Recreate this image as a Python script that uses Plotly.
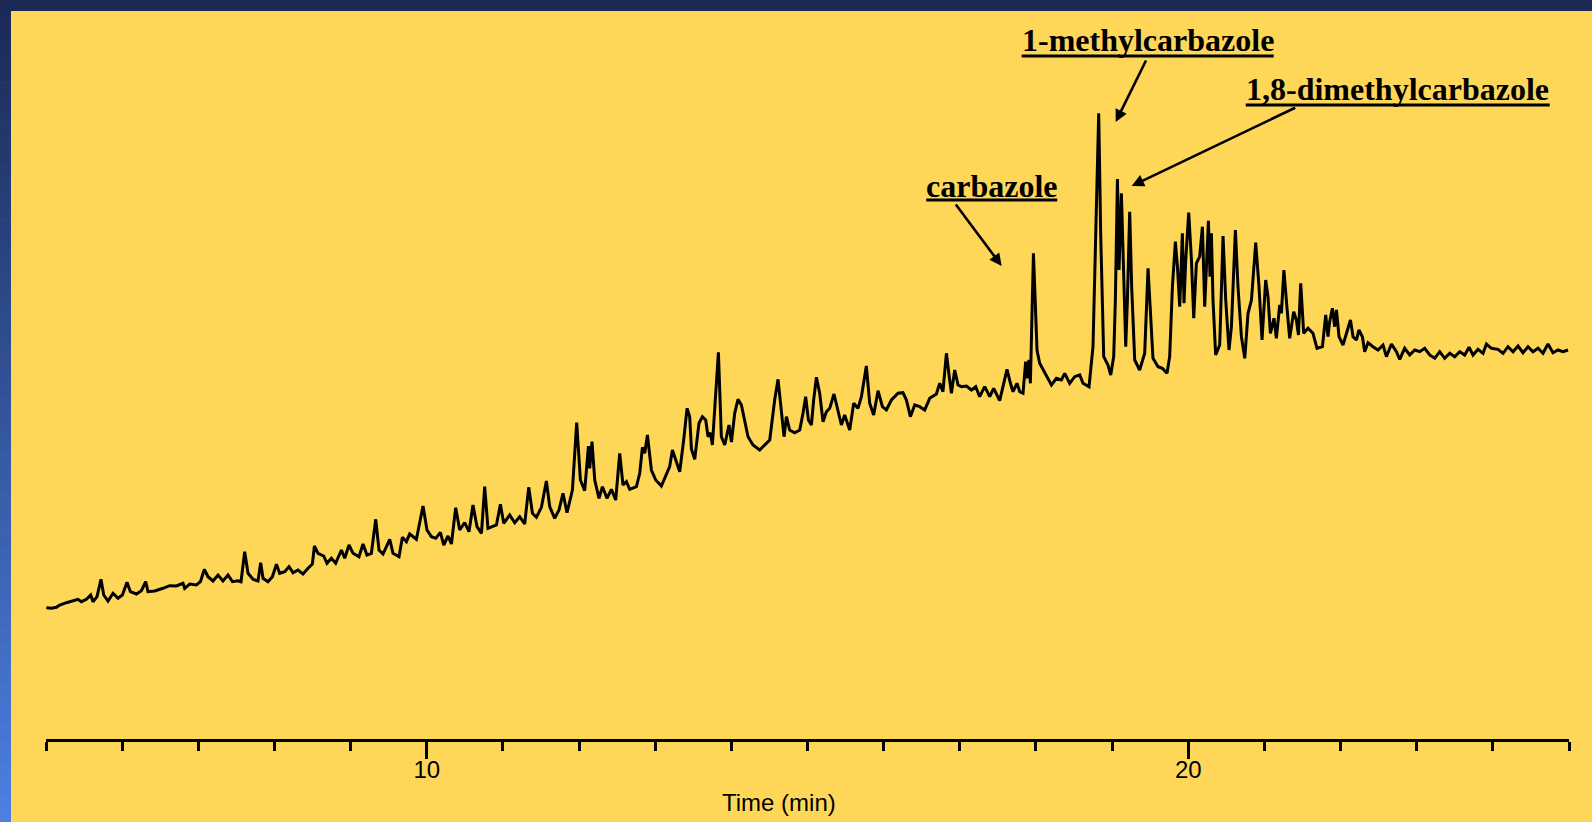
import plotly.graph_objects as go

# Total ion chromatogram: retention time (min) and detector response (arbitrary units)
time_min = [
    5.005, 5.071, 5.137, 5.180, 5.268, 5.355, 5.420, 5.465, 5.531, 5.587, 5.617, 5.670, 5.722, 5.758,
    5.814, 5.880, 5.946, 6.003, 6.064, 6.108, 6.187, 6.253, 6.309, 6.339, 6.427, 6.536, 6.624, 6.712,
    6.799, 6.821, 6.887, 6.975, 7.028, 7.080, 7.127, 7.193, 7.259, 7.324, 7.390, 7.448, 7.521, 7.561,
    7.609, 7.653, 7.718, 7.784, 7.819, 7.850, 7.915, 7.973, 8.026, 8.069, 8.135, 8.191, 8.244, 8.309,
    8.375, 8.441, 8.498, 8.525, 8.572, 8.647, 8.690, 8.748, 8.804, 8.879, 8.923, 8.979, 9.032, 9.110,
    9.163, 9.215, 9.273, 9.330, 9.373, 9.426, 9.514, 9.557, 9.636, 9.680, 9.733, 9.776, 9.864, 9.951,
    10.003, 10.061, 10.118, 10.179, 10.223, 10.279, 10.324, 10.380, 10.433, 10.498, 10.555, 10.607,
    10.660, 10.718, 10.761, 10.804, 10.915, 10.967, 11.011, 11.089, 11.155, 11.221, 11.286, 11.339,
    11.388, 11.440, 11.506, 11.571, 11.615, 11.680, 11.737, 11.789, 11.842, 11.913, 11.969, 12.018,
    12.074, 12.123, 12.140, 12.170, 12.206, 12.262, 12.307, 12.367, 12.425, 12.481, 12.534, 12.577,
    12.622, 12.665, 12.753, 12.797, 12.832, 12.862, 12.898, 12.950, 13.007, 13.081, 13.138, 13.190,
    13.226, 13.278, 13.322, 13.374, 13.418, 13.453, 13.476, 13.519, 13.575, 13.620, 13.663, 13.694,
    13.725, 13.751, 13.830, 13.869, 13.913, 13.969, 14.001, 14.044, 14.087, 14.132, 14.175, 14.219,
    14.284, 14.372, 14.504, 14.569, 14.613, 14.657, 14.692, 14.723, 14.766, 14.832, 14.898, 14.941,
    14.976, 15.012, 15.051, 15.081, 15.117, 15.160, 15.204, 15.248, 15.292, 15.348, 15.401, 15.445,
    15.488, 15.554, 15.607, 15.663, 15.708, 15.773, 15.817, 15.869, 15.926, 15.984, 16.036, 16.102,
    16.189, 16.254, 16.299, 16.351, 16.408, 16.473, 16.539, 16.605, 16.693, 16.736, 16.779, 16.824,
    16.867, 16.890, 16.933, 16.977, 17.021, 17.087, 17.153, 17.209, 17.261, 17.327, 17.393, 17.445,
    17.524, 17.567, 17.620, 17.665, 17.699, 17.751, 17.787, 17.830, 17.865, 17.883, 17.909, 17.927,
    17.967, 17.990, 18.014, 18.049, 18.115, 18.203, 18.269, 18.334, 18.378, 18.443, 18.509, 18.575,
    18.618, 18.697, 18.749, 18.794, 18.824, 18.850, 18.890, 18.946, 18.982, 19.021, 19.043, 19.070,
    19.091, 19.122, 19.153, 19.179, 19.201, 19.231, 19.257, 19.297, 19.362, 19.428, 19.472, 19.507,
    19.537, 19.603, 19.660, 19.721, 19.756, 19.792, 19.831, 19.858, 19.888, 19.923, 19.944, 19.967,
    20.006, 20.042, 20.072, 20.107, 20.150, 20.186, 20.216, 20.239, 20.265, 20.286, 20.304, 20.325,
    20.360, 20.413, 20.457, 20.492, 20.535, 20.567, 20.619, 20.653, 20.698, 20.742, 20.785, 20.830,
    20.886, 20.929, 20.969, 21.017, 21.047, 21.079, 21.126, 21.157, 21.201, 21.223, 21.256, 21.297,
    21.332, 21.385, 21.420, 21.447, 21.477, 21.516, 21.573, 21.638, 21.691, 21.762, 21.805, 21.835,
    21.857, 21.893, 21.923, 21.946, 21.980, 22.032, 22.077, 22.130, 22.164, 22.208, 22.242, 22.287,
    22.317, 22.361, 22.426, 22.492, 22.558, 22.602, 22.668, 22.734, 22.777, 22.842, 22.908, 22.974,
    23.040, 23.105, 23.171, 23.237, 23.302, 23.368, 23.434, 23.499, 23.565, 23.631, 23.687, 23.740,
    23.805, 23.871, 23.916, 23.981, 24.068, 24.134, 24.199, 24.265, 24.331, 24.396, 24.462, 24.527,
    24.593, 24.659, 24.724, 24.790, 24.856, 24.921, 24.987,
]

response = [
    131.3, 130.7, 131.7, 134.0, 136.3, 138.3, 139.7, 137.3, 139.7, 144.0, 137.3, 142.3, 159.7, 144.0,
    138.0, 145.7, 140.7, 144.0, 156.7, 147.3, 145.0, 148.3, 157.3, 147.3, 148.0, 150.7, 153.3, 153.0,
    155.7, 150.7, 155.0, 154.0, 157.3, 169.7, 162.3, 158.0, 164.0, 158.0, 164.0, 157.3, 158.3, 157.3,
    187.3, 165.7, 159.7, 158.0, 176.3, 160.7, 157.3, 162.3, 174.7, 165.7, 167.3, 172.3, 166.3, 169.0,
    165.0, 170.7, 175.0, 193.0, 185.7, 183.0, 175.7, 180.7, 175.7, 189.0, 180.7, 194.0, 185.7, 182.3,
    195.0, 184.0, 185.7, 219.7, 189.0, 185.0, 199.7, 185.7, 182.3, 201.7, 197.3, 205.0, 199.7, 233.0,
    209.0, 202.3, 200.7, 206.7, 194.0, 203.0, 195.0, 231.3, 209.0, 216.3, 207.3, 234.0,
    212.3, 205.7, 252.3, 210.7, 214.0, 234.7, 215.7, 224.0, 216.3, 222.3, 215.0, 251.7,
    225.7, 221.7, 231.7, 258.0, 232.3, 220.7, 229.0, 245.7, 226.3, 249.0, 316.3, 259.0,
    248.3, 293.0, 270.7, 297.3, 259.0, 240.7, 252.3, 240.7, 249.7, 239.0, 285.7, 254.0,
    257.3, 249.7, 252.3, 265.7, 291.7, 285.7, 304.0, 269.0, 259.0, 253.0, 263.0, 272.3,
    289.0, 278.3, 267.3, 299.0, 330.7, 322.3, 289.7, 279.7, 315.7, 322.3, 319.0, 302.3,
    306.3, 294.0, 386.7, 302.3, 294.0, 314.0, 297.0, 325.7, 339.7, 334.0, 319.0, 302.3,
    294.0, 289.0, 299.0, 339.0, 359.7, 329.0, 302.3, 322.3, 309.0, 306.3, 309.0, 325.7,
    342.3, 319.0, 314.0, 339.0, 361.7, 345.7, 317.3, 327.3, 330.7, 345.0, 329.0, 314.0,
    324.0, 309.0, 335.7, 330.7, 342.3, 373.0, 335.7, 324.0, 348.3, 332.3, 329.0, 339.0,
    345.7, 346.3, 339.0, 322.3, 334.0, 332.3, 329.0, 340.7, 345.0, 355.7, 347.3, 385.7,
    359.0, 345.7, 369.0, 354.0, 352.3, 353.0, 349.0, 352.3, 342.3, 352.3, 342.3, 350.7,
    338.3, 352.3, 369.7, 355.7, 347.3, 355.7, 347.3, 345.7, 377.3, 360.7, 379.0, 355.7,
    485.7, 439.0, 389.0, 375.7, 365.7, 354.0, 360.7, 359.0, 365.7, 355.7, 362.3, 364.0,
    355.7, 352.3, 392.3, 539.0, 625.7, 505.7, 382.3, 374.0, 364.0, 382.3, 439.0, 560.0,
    469.0, 545.7, 472.3, 392.3, 439.0, 527.3, 452.3, 379.0, 369.0, 385.7, 470.7, 422.3,
    380.7, 372.3, 370.7, 365.7, 382.3, 452.3, 497.3, 472.3, 432.3, 505.7, 435.7, 479.0,
    526.3, 479.0, 420.7, 475.7, 482.3, 512.3, 432.3, 472.3, 518.3, 462.3, 505.7, 439.0,
    384.0, 394.0, 503.0, 439.0, 389.0, 412.3, 509.0, 452.3, 402.3, 380.7, 425.7, 439.0,
    496.3, 452.3, 399.0, 459.0, 442.3, 405.7, 420.7, 400.7, 434.0, 425.7, 469.0, 430.7,
    400.7, 427.3, 419.0, 404.0, 455.7, 405.7, 410.7, 405.7, 390.7, 392.3, 424.0, 402.3,
    417.3, 430.7, 412.3, 429.0, 402.3, 394.0, 405.7, 419.0, 402.3, 399.0, 409.0, 402.3,
    387.3, 396.3, 392.3, 389.0, 394.0, 382.3, 395.0, 387.3, 379.7, 390.7, 384.0, 389.0,
    387.3, 390.7, 384.0, 380.7, 387.3, 380.7, 385.7, 382.3, 387.3, 384.0, 391.7, 384.0,
    389.7, 385.7, 395.0, 390.7, 389.7, 385.7, 392.3, 387.3, 393.0, 386.3, 392.3, 387.3,
    390.7, 385.7, 395.0, 386.3, 389.0, 387.3, 389.0,
]

# Compound labels
peak_names = ["carbazole", "1-methylcarbazole", "1,8-dimethylcarbazole"]

# Label placement (time, response): text centre, underline span, arrow tail and head
label_layout = [
    dict(text_at=(17.419, 553.5), underline=(16.559, 18.279, 539), tail=(16.933, 536), head=(17.550, 473)),
    dict(text_at=(19.468, 698.8), underline=(17.813, 21.122, 683), tail=(19.455, 680), head=(19.047, 617)),
    dict(text_at=(22.751, 650.0), underline=(20.755, 24.747, 634), tail=(21.424, 632), head=(19.257, 553)),
]

W, H = 1592, 822
M_L, M_R, M_T, M_B = 46, 23, 11, 83
Y_TOP = 728

YELLOW = "#FED758"
NAVY = "#1B2A55"


def px_to_paper_x(px):
    return (px - M_L) / (W - M_L - M_R)


def px_to_paper_y(py):
    return (H - M_B - py) / (H - M_T - M_B)


fig = go.Figure()
fig.add_trace(go.Scatter(
    x=time_min, y=response, mode="lines",
    line=dict(color="black", width=3),
    hoverinfo="skip", showlegend=False,
))

shapes = []
# dark frame along the top edge
shapes.append(dict(
    type="rect", xref="paper", yref="paper", layer="above",
    x0=px_to_paper_x(0), x1=px_to_paper_x(W), y0=px_to_paper_y(11), y1=px_to_paper_y(0),
    fillcolor=NAVY, line=dict(width=0),
))
# blue gradient frame along the left edge
c0 = (27, 42, 85)
c1 = (76, 127, 224)
n_strips = 60
for i in range(n_strips):
    f = i / (n_strips - 1)
    col = tuple(round(a + (b - a) * f) for a, b in zip(c0, c1))
    y_top = H * i / n_strips
    y_bot = H * (i + 1) / n_strips + 0.6
    shapes.append(dict(
        type="rect", xref="paper", yref="paper", layer="above",
        x0=px_to_paper_x(0), x1=px_to_paper_x(11),
        y0=px_to_paper_y(min(y_bot, H)), y1=px_to_paper_y(y_top),
        fillcolor="rgb(%d,%d,%d)" % col, line=dict(width=0),
    ))

annotations = []
for name, spec in zip(peak_names, label_layout):
    tx, ty = spec["text_at"]
    annotations.append(dict(
        x=tx, y=ty, xref="x", yref="y", text=name, showarrow=False,
        xanchor="center", yanchor="middle",
        font=dict(family="Liberation Serif, Times New Roman, serif", size=32,
                  color="black", weight="bold"),
    ))
    u0, u1, uy = spec["underline"]
    shapes.append(dict(
        type="line", xref="x", yref="y", x0=u0, x1=u1, y0=uy, y1=uy,
        line=dict(color="black", width=3),
    ))
    (ax, ay), (hx, hy) = spec["tail"], spec["head"]
    annotations.append(dict(
        x=hx, y=hy, ax=ax, ay=ay, xref="x", yref="y", axref="x", ayref="y",
        text="", showarrow=True, arrowhead=2, arrowsize=0.95, arrowwidth=2.6,
        arrowcolor="black", standoff=0, startstandoff=0,
    ))

# x-axis title
annotations.append(dict(
    x=14.622, y=px_to_paper_y(802.7), xref="x", yref="paper",
    text="Time (min)", showarrow=False, xanchor="center", yanchor="middle",
    font=dict(family="Liberation Sans, Arial, sans-serif", size=24, color="black"),
))

fig.update_layout(
    width=W, height=H,
    margin=dict(l=M_L, r=M_R, t=M_T, b=M_B, pad=0),
    paper_bgcolor=YELLOW, plot_bgcolor=YELLOW,
    showlegend=False,
    shapes=shapes,
    annotations=annotations,
    xaxis=dict(
        range=[5, 25], showgrid=False, zeroline=False,
        showline=True, linecolor="black", linewidth=3,
        tickmode="linear", tick0=0, dtick=10,
        ticks="outside", ticklen=17, tickwidth=3, tickcolor="black",
        ticklabelstandoff=-10,
        tickfont=dict(family="Liberation Sans, Arial, sans-serif", size=24, color="black"),
        minor=dict(tickmode="linear", tick0=0, dtick=1, ticks="outside",
                   ticklen=9, tickwidth=3, tickcolor="black", showgrid=False),
        fixedrange=True,
    ),
    yaxis=dict(range=[0, Y_TOP], visible=False, showgrid=False, zeroline=False, fixedrange=True),
)

fig.write_html("out.html")
